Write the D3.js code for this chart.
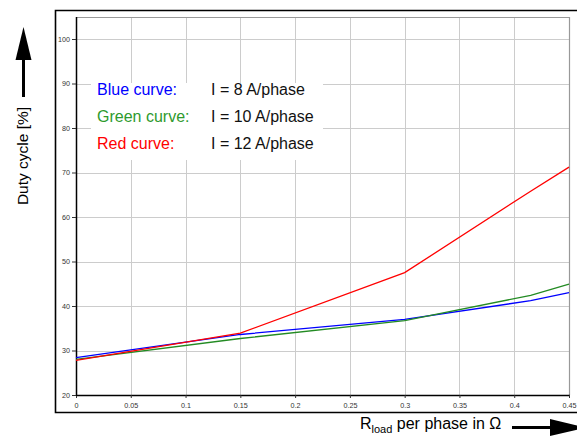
<!DOCTYPE html>
<html>
<head>
<meta charset="utf-8">
<script src="https://cdn.jsdelivr.net/npm/d3@7"></script>
<style>
  html, body { margin: 0; padding: 0; background: #fff; }
  svg { display: block; font-family: "Liberation Sans", Arial, sans-serif; }
</style>
</head>
<body>
<svg id="chart" width="577" height="439"></svg>
<script>
// Load resistance per phase (Ω) at which duty cycle was evaluated
const rLoad = [0, 0.15, 0.3, 0.415, 0.45];
// Duty cycle [%] per phase current
const dutyBlue  = [28.4, 33.6, 37.0, 41.2, 43.0];   // 8 A/phase
const dutyGreen = [28.0, 32.7, 36.7, 42.4, 44.9];   // 10 A/phase
const dutyRed   = [27.8, 33.9, 47.5, 65.8, 71.2];   // 12 A/phase

const xTicks = [0, 0.05, 0.1, 0.15, 0.2, 0.25, 0.3, 0.35, 0.4, 0.45];
const yTicks = [20, 30, 40, 50, 60, 70, 80, 90, 100];

const legendNames  = ["Blue curve:", "Green curve:", "Red curve:"];
const legendValues = ["I = 8 A/phase", "I = 10 A/phase", "I = 12 A/phase"];

const colors = { blue: "#0000ff", green: "#238b23", red: "#ff0000" };
const legendColors = ["#0000ff", "#2e9a2e", "#ff0000"];

const svg = d3.select("#chart");

const plot = { left: 76, right: 569, top: 17, bottom: 395 };
const x = d3.scaleLinear().domain([0, 0.45]).range([plot.left, plot.right]);
const y = d3.scaleLinear().domain([20, 100]).range([plot.bottom, 39]);

// Outer frame (open on the right)
svg.append("path")
  .attr("d", `M577,10.5 H55.5 V412.5 H577`)
  .attr("fill", "none").attr("stroke", "#000").attr("stroke-width", 1.6);

// Grid
const grid = svg.append("g").attr("stroke", "#cccccc").attr("stroke-width", 1);
grid.selectAll("line.v").data(xTicks.slice(1, -1)).join("line")
  .attr("x1", d => Math.round(x(d)) + 0.5).attr("x2", d => Math.round(x(d)) + 0.5)
  .attr("y1", plot.top).attr("y2", plot.bottom);
grid.selectAll("line.h").data(yTicks.slice(1)).join("line")
  .attr("y1", d => Math.round(y(d)) + 0.5).attr("y2", d => Math.round(y(d)) + 0.5)
  .attr("x1", plot.left).attr("x2", plot.right);

// Top and right plot borders
svg.append("path")
  .attr("d", `M${plot.left},${plot.top + 0.5} H${plot.right + 0.5} V${plot.bottom}`)
  .attr("fill", "none").attr("stroke", "#999").attr("stroke-width", 1.2);

// Axes
const xAxis = d3.axisBottom(x).tickValues(xTicks).tickSize(3).tickPadding(5)
  .tickFormat(d => d3.format("")(+d.toFixed(2)));
const yAxis = d3.axisLeft(y).tickValues(yTicks).tickSize(4).tickPadding(2)
  .tickFormat(d3.format("d"));

const gx = svg.append("g").attr("transform", `translate(0,${plot.bottom})`).call(xAxis);
gx.select(".domain").attr("d", `M${plot.left},0.5 H${plot.right + 1}`).attr("stroke", "#000").attr("stroke-width", 1.5);
const gy = svg.append("g").attr("transform", `translate(${plot.left},0)`).call(yAxis);
gy.select(".domain").attr("d", `M0.5,${plot.top} V${plot.bottom + 1}`).attr("stroke", "#000").attr("stroke-width", 1.5);

[gx, gy].forEach(g => {
  g.selectAll(".tick line").attr("stroke", "#333");
  g.selectAll(".tick text").attr("fill", "#333").attr("font-size", 7.2)
    .attr("font-family", "Liberation Sans, Arial, sans-serif");
});

// Legend panel
svg.append("rect").attr("x", 91).attr("y", 83).attr("width", 232).attr("height", 77).attr("fill", "#fff");
const lg = svg.append("g").attr("font-size", 16);
legendNames.forEach((name, i) => {
  lg.append("text").attr("x", 97).attr("y", 95 + i * 27).attr("fill", legendColors[i]).text(name);
  lg.append("text").attr("x", 211).attr("y", 95 + i * 27).attr("fill", "#111").text(legendValues[i]);
});

// Curves
const line = d3.line().x((d, i) => x(rLoad[i])).y(d => y(d));
[[dutyBlue, colors.blue], [dutyGreen, colors.green], [dutyRed, colors.red]].forEach(([vals, c]) => {
  svg.append("path").datum(vals).attr("d", line)
    .attr("fill", "none").attr("stroke", c).attr("stroke-width", 1.3);
});

// Y axis title with arrow
svg.append("text")
  .attr("transform", "translate(28,156) rotate(-90)")
  .attr("text-anchor", "middle").attr("font-size", 15.5).attr("fill", "#000")
  .text("Duty cycle [%]");
svg.append("line").attr("x1", 23.5).attr("x2", 23.5).attr("y1", 97).attr("y2", 58)
  .attr("stroke", "#000").attr("stroke-width", 3);
svg.append("path").attr("d", "M23.5,27 L31.5,60 L15.5,60 Z").attr("fill", "#000");

// X axis title with arrow
const xt = svg.append("text").attr("x", 360).attr("y", 429).attr("font-size", 16).attr("fill", "#000");
xt.append("tspan").text("R");
xt.append("tspan").attr("font-size", 11).attr("dy", 4).text("load");
xt.append("tspan").attr("dy", -4).text(" per phase in Ω");
svg.append("line").attr("x1", 512).attr("x2", 552).attr("y1", 427.5).attr("y2", 427.5)
  .attr("stroke", "#000").attr("stroke-width", 3);
svg.append("path").attr("d", "M550,419 L586,427.5 L550,436 Z").attr("fill", "#000");
</script>
</body>
</html>
